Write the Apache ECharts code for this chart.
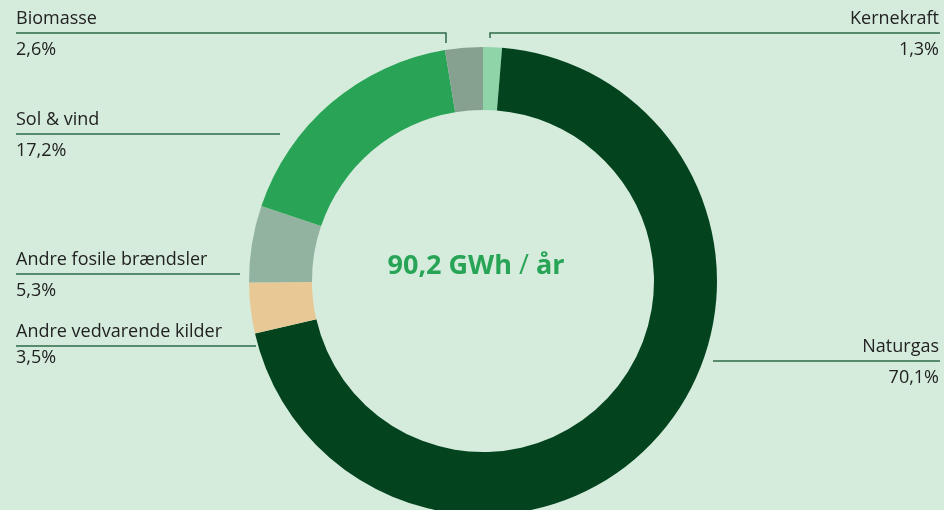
<!DOCTYPE html>
<html>
<head>
<meta charset="utf-8">
<script src="https://cdn.jsdelivr.net/npm/echarts@6/dist/echarts.min.js"></script>
<style>
html, body { margin: 0; padding: 0; background: #d5ecdd; }
#main { width: 944px; height: 510px; }
</style>
</head>
<body>
<div id="main"></div>
<script>
// energy mix, share in percent (clockwise from the top)
var names = ['Kernekraft', 'Naturgas', 'Andre vedvarende kilder', 'Andre fosile brændsler', 'Sol & vind', 'Biomasse'];
var shares = [1.3, 70.1, 3.5, 5.3, 17.2, 2.6];
var totalText = '90,2 GWh';
var unitText = 'år';

var colors = ['#8fd4a9', '#03441f', '#e8c996', '#93b3a1', '#29a456', '#86a190'];

// where each label's rule sits
var ruleY = [33, 361, 346, 274, 134, 33];
var ruleEnd = [490, 713, 256, 240, 280, 446];
var dropTo = [38, null, null, null, null, 43];
var valueLine = [34, 34, 24, 34, 34, 34];

var cx = 483, cy = 281;
var myChart = echarts.init(document.getElementById('main'));

function fmt(v) {
    return v.toFixed(1).replace('.', ',') + '%';
}

var pieData = names.map(function (n, i) {
    return {
        name: n,
        value: shares[i],
        itemStyle: { color: colors[i] },
        label: { rich: { v: { lineHeight: valueLine[i] } } }
    };
});

var option = {
    backgroundColor: '#d5ecdd',
    textStyle: { fontFamily: 'Open Sans' },
    graphic: [{
        type: 'text',
        x: 476,
        y: 266,
        style: {
            text: '{a|' + totalText + '}{b| / }{a|' + unitText + '}',
            align: 'center',
            verticalAlign: 'middle',
            rich: {
                a: { fontFamily: 'Open Sans', fontWeight: 'bold', fontSize: 27, fill: '#28a456' },
                b: { fontFamily: 'Open Sans', fontWeight: 'normal', fontSize: 27, fill: '#28a456' }
            }
        }
    }],
    series: [{
        type: 'pie',
        center: [cx, cy],
        radius: [171, 234],
        startAngle: 90,
        clockwise: true,
        avoidLabelOverlap: false,
        silent: true,
        data: pieData,
        label: {
            show: true,
            position: 'outer',
            formatter: function (p) {
                return '{n|' + p.name + '}\n{v|' + fmt(p.value) + '}';
            },
            rich: {
                n: { fontSize: 18, lineHeight: 28, color: '#222', fontFamily: 'Open Sans' },
                v: { fontSize: 18, lineHeight: 34, color: '#222', fontFamily: 'Open Sans' }
            }
        },
        labelLine: {
            show: true,
            lineStyle: { color: '#2e6a48', width: 1.5 }
        },
        labelLayout: function (params) {
            var i = params.dataIndex;
            var right = ruleEnd[i] > cx;
            var edge = right ? 940 : 16;
            var pts;
            if (dropTo[i] != null) {
                pts = [[ruleEnd[i], dropTo[i]], [ruleEnd[i], ruleY[i]], [edge, ruleY[i]]];
            } else {
                pts = [[ruleEnd[i], ruleY[i]], [ruleEnd[i], ruleY[i]], [edge, ruleY[i]]];
            }
            return {
                x: right ? 939 : 16,
                y: ruleY[i] - 28,
                align: right ? 'right' : 'left',
                verticalAlign: 'top',
                labelLinePoints: pts
            };
        }
    }]
};

myChart.setOption(option);
</script>
</body>
</html>
